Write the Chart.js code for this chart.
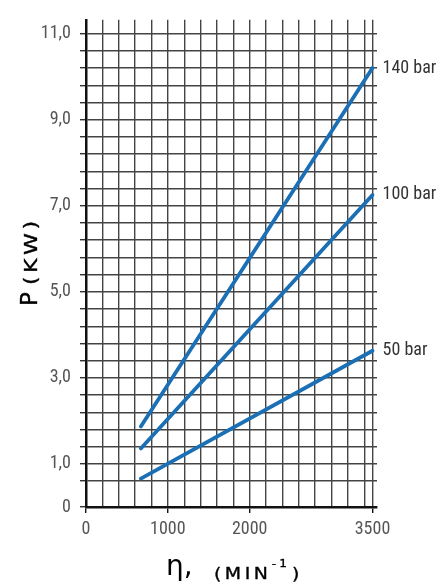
<!DOCTYPE html>
<html>
<head>
<meta charset="utf-8">
<script src="https://cdn.jsdelivr.net/npm/chart.js@4/dist/chart.umd.min.js"></script>
<style>
  html, body { margin: 0; padding: 0; background: #ffffff; }
  #wrap { width: 440px; height: 583px; }
</style>
</head>
<body>
<div id="wrap"><canvas id="c" width="440" height="583"></canvas></div>
<script>
// ---- data ----
const seriesNames = ['140 bar', '100 bar', '50 bar'];
const rpm = [670, 3500];            // min^-1
const p140 = [1.87, 10.2];          // kW
const p100 = [1.36, 7.25];
const p50 = [0.66, 3.63];

// ---- axis ticks / labels ----
const xGridValues = [0, 200, 400, 600, 800, 1000, 1200, 1400, 1600, 1800, 2000, 2200, 2400, 2600, 2800, 3000, 3200, 3400, 3500];
const xLabelValues = [0, 1000, 2000, 3500];
const xLabels = ['0', '1000', '2000', '3500'];
const yGridValues = [0, 0.6, 1.0, 1.4, 1.8, 2.2, 2.6, 3.0, 3.4, 3.8, 4.2, 4.6, 5.0, 5.4, 5.8, 6.2, 6.6, 7.0, 7.4, 7.8, 8.2, 8.6, 9.0, 9.4, 9.8, 10.2, 10.6, 11.0];
const yLabelValues = [0, 1, 3, 5, 7, 9, 11];
const yLabels = ['0', '1,0', '3,0', '5,0', '7,0', '9,0', '11,0'];

const series = [p140, p100, p50];
const lineColor = '#1a6fb5';
const tickFont = { family: '"Liberation Sans Narrow", "Roboto Condensed", "Liberation Sans", sans-serif', size: 18 };

function labelFor(values, labels, v) {
  for (let i = 0; i < values.length; i++) if (Math.abs(values[i] - v) < 1e-6) return labels[i];
  return '';
}

const seriesLabelPlugin = {
  id: 'seriesLabels',
  afterDatasetsDraw(chart) {
    const ctx = chart.ctx;
    ctx.save();
    ctx.font = '18px ' + tickFont.family;
    ctx.fillStyle = '#333333';
    ctx.textAlign = 'left';
    ctx.textBaseline = 'middle';
    chart.data.datasets.forEach((ds, i) => {
      const meta = chart.getDatasetMeta(i);
      const pt = meta.data[meta.data.length - 1];
      ctx.fillText(ds.label, pt.x + 10, pt.y);
    });
    ctx.restore();
  }
};

// draws characters one by one, stretched horizontally by sx, with extra spacing
function drawSpaced(ctx, text, x, y, spacing, sx) {
  for (const ch of text) {
    ctx.save();
    ctx.translate(x, y);
    ctx.scale(sx, 1);
    ctx.fillText(ch, 0, 0);
    ctx.strokeText(ch, 0, 0);
    ctx.restore();
    x += ctx.measureText(ch).width * sx + spacing;
  }
  return x - spacing;
}

const titlePlugin = {
  id: 'axisTitles',
  afterDraw(chart) {
    const ctx = chart.ctx;
    const fam = '"DejaVu Sans", sans-serif';
    ctx.save();
    ctx.fillStyle = '#000000';
    ctx.strokeStyle = '#000000';
    ctx.lineWidth = 0.35;
    ctx.textAlign = 'left';
    ctx.textBaseline = 'alphabetic';
    // Y title, rotated
    ctx.save();
    ctx.translate(37, 306);
    ctx.rotate(-Math.PI / 2);
    ctx.font = '23px ' + fam;
    ctx.fillText('P', 0, 0);
    ctx.strokeText('P', 0, 0);
    ctx.font = '17px ' + fam;
    drawSpaced(ctx, '(KW)', 21, 0, 3.5, 1.3);
    ctx.restore();
    // X title
    ctx.font = '28px ' + fam;
    ctx.fillText('η,', 166, 575);
    ctx.font = '16px ' + fam;
    let x = drawSpaced(ctx, '(MIN', 214, 579, 3.5, 1.18);
    ctx.font = '11px ' + fam;
    x = drawSpaced(ctx, '-1', x + 4, 567, 3, 1.1);
    ctx.font = '16px ' + fam;
    drawSpaced(ctx, ')', x + 5, 579, 0, 1.18);
    ctx.restore();
  }
};

new Chart(document.getElementById('c'), {
  type: 'line',
  data: {
    datasets: seriesNames.map((name, i) => ({
      label: name,
      data: rpm.map((v, j) => ({ x: v, y: series[i][j] })),
      borderColor: lineColor,
      borderWidth: 3.8,
      borderCapStyle: 'round',
      pointRadius: 0,
      fill: false,
      tension: 0
    }))
  },
  options: {
    responsive: false,
    animation: false,
    devicePixelRatio: 1,
    layout: { padding: { top: 18, right: 63, left: 0, bottom: 0 } },
    plugins: { legend: { display: false }, tooltip: { enabled: false } },
    scales: {
      x: {
        type: 'linear',
        min: 0,
        max: 3555,
        afterBuildTicks: s => { s.ticks = xGridValues.map(v => ({ value: v })); },
        afterFit: s => { s.height = 76; },
        ticks: {
          autoSkip: false,
          maxRotation: 0,
          minRotation: 0,
          padding: 6,
          color: '#555555',
          font: tickFont,
          callback: v => labelFor(xLabelValues, xLabels, v)
        },
        grid: {
          color: '#444444',
          lineWidth: 1.4,
          tickLength: 6,
          tickColor: c => (labelFor(xLabelValues, xLabels, c.tick ? c.tick.value : -1) !== '' ? '#111111' : 'rgba(0,0,0,0)')
        },
        border: { color: '#111111', width: 2.5 }
      },
      y: {
        type: 'linear',
        min: 0,
        max: 11.32,
        afterBuildTicks: s => { s.ticks = yGridValues.map(v => ({ value: v })); },
        afterFit: s => { s.width = 86; },
        ticks: {
          autoSkip: false,
          padding: 9,
          color: '#555555',
          font: tickFont,
          callback: v => labelFor(yLabelValues, yLabels, v)
        },
        grid: {
          color: '#444444',
          lineWidth: 1.4,
          tickLength: 6,
          tickColor: '#333333'
        },
        border: { color: '#111111', width: 2.5 }
      }
    }
  },
  plugins: [seriesLabelPlugin, titlePlugin]
});
</script>
</body>
</html>
